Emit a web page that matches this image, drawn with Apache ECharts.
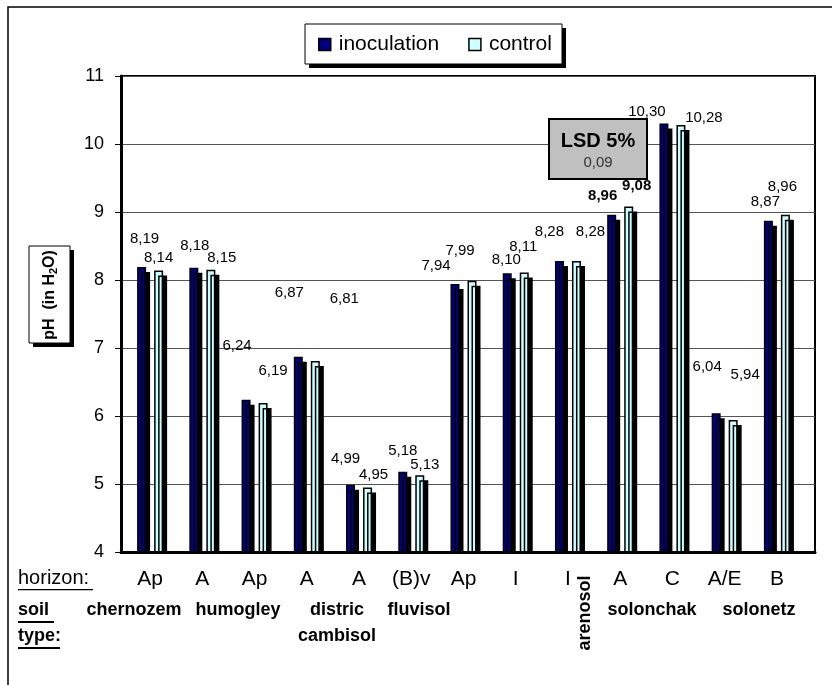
<!DOCTYPE html>
<html>
<head>
<meta charset="utf-8">
<script src="https://cdn.jsdelivr.net/npm/echarts@6/dist/echarts.min.js"></script>
<style>html,body{margin:0;padding:0;background:#fff}#c{width:832px;height:685px}</style>
</head>
<body>
<div id="c"></div>
<script>
// ---- data ----
var horizons = ['Ap', 'A', 'Ap', 'A', 'A', '(B)v', 'Ap', 'I', 'I', 'A', 'C', 'A/E', 'B'];
var inoculation = [8.19, 8.18, 6.24, 6.87, 4.99, 5.18, 7.94, 8.10, 8.28, 8.96, 10.30, 6.04, 8.87];
var control = [8.14, 8.15, 6.19, 6.81, 4.95, 5.13, 7.99, 8.11, 8.28, 9.08, 10.28, 5.94, 8.96];
var yTicks = [4, 5, 6, 7, 8, 9, 10, 11];
var soilTypes = ['chernozem', 'humogley', 'distric\ncambisol', 'fluvisol', 'arenosol', 'solonchak', 'solonetz'];
var lsdValue = 0.09;

// ---- label placement (Excel-like manual label positions) ----
var inocLabelOffsets = [[3,-29],[1,-22],[-9,-54],[-9,-64],[-5,-26],[0,-21],[-19,-19],[-1,-14],[-10,-30],[-9,-19],[-17,-12],[-9,-47],[-3,-19]];
var ctrlLabelOffsets = [[0,-13],[11,-12],[10,-33],[29,-63],[6,-13],[5,-11],[-12,-30],[-1,-26],[14,-30],[8,-21],[23,-8],[12,-46],[-3,-28]];
var boldLabelIdx = [9];

function fmt(v){ return v.toFixed(2).replace('.', ','); }
function mkData(vals, offs){
  return vals.map(function(v, i){
    return {
      value: v,
      label: {
        offset: [offs[i][0], offs[i][1] + 8],
        fontWeight: boldLabelIdx.indexOf(i) >= 0 ? 'bold' : 'normal'
      }
    };
  });
}

var chart = echarts.init(document.getElementById('c'), null, {renderer: 'canvas'});
var F = 'Arial, "Liberation Sans", sans-serif';
var barItem = function(color){
  return {color: color, borderColor: '#000', borderWidth: 1.5,
          shadowColor: '#000', shadowBlur: 0, shadowOffsetX: 4, shadowOffsetY: 5};
};
var labelBase = {show: true, position: 'top', distance: 0, fontFamily: F, fontSize: 15, color: '#000',
                 formatter: function(p){ return fmt(p.value); }};

var soilPos = [[134,610],[238,610],[337,623],[419,610],null,[652,610],[759,610]];
var graphics = [
  {type: 'rect', shape: {x: 8, y: 7, width: 840, height: 700}, style: {fill: 'none', stroke: '#000', lineWidth: 1.5}, z: 0},
  // legend frame with shadow
  {type: 'rect', shape: {x: 309, y: 28, width: 257, height: 40}, style: {fill: '#000'}, z: 1},
  {type: 'rect', shape: {x: 305, y: 24, width: 257, height: 40}, style: {fill: '#fff', stroke: '#000', lineWidth: 1}, z: 2},
  // hide bar shadows below the category axis
  {type: 'rect', shape: {x: 122, y: 553.5, width: 700, height: 8}, style: {fill: '#fff'}, z: 20},
  // y-axis title box with shadow
  {type: 'rect', shape: {x: 33, y: 250, width: 41, height: 97}, style: {fill: '#000'}, z: 10},
  {type: 'rect', shape: {x: 29, y: 246, width: 41, height: 97}, style: {fill: '#fff', stroke: '#000', lineWidth: 1}, z: 11},
  {type: 'text', x: 50, y: 295, rotation: Math.PI/2, z: 12,
   style: {text: '{b|pH  (in H}{s|2}{b|O)}', align: 'center', verticalAlign: 'middle',
           rich: {b: {fontFamily: F, fontSize: 16, fontWeight: 'bold', fill: '#000'},
                  s: {fontFamily: F, fontSize: 11, fontWeight: 'bold', fill: '#000', padding: [8,0,0,0]}}}},
  // LSD box
  {type: 'rect', shape: {x: 549, y: 119, width: 98, height: 60}, style: {fill: '#c0c0c0', stroke: '#000', lineWidth: 2}, z: 10},
  {type: 'text', x: 598, y: 141, z: 11, style: {text: 'LSD 5%', align: 'center', verticalAlign: 'middle', fontFamily: F, fontSize: 20, fontWeight: 'bold', fill: '#000'}},
  {type: 'text', x: 598, y: 163, z: 11, style: {text: fmt(lsdValue), align: 'center', verticalAlign: 'middle', fontFamily: F, fontSize: 15, fill: '#333'}},
  // row titles
  {type: 'text', x: 18, y: 578, style: {text: 'horizon:', verticalAlign: 'middle', fontFamily: F, fontSize: 20, fill: '#000'}},
  {type: 'rect', shape: {x: 18, y: 589, width: 75, height: 1.3}, style: {fill: '#000'}},
  {type: 'text', x: 18, y: 610, style: {text: 'soil', verticalAlign: 'middle', fontFamily: F, fontSize: 18, fontWeight: 'bold', fill: '#000'}},
  {type: 'rect', shape: {x: 18, y: 621, width: 36, height: 2}, style: {fill: '#000'}},
  {type: 'text', x: 18, y: 636, style: {text: 'type:', verticalAlign: 'middle', fontFamily: F, fontSize: 18, fontWeight: 'bold', fill: '#000'}},
  {type: 'rect', shape: {x: 18, y: 647, width: 42, height: 2}, style: {fill: '#000'}},
  // arenosol (vertical)
  {type: 'text', x: 585, y: 613, rotation: Math.PI/2, style: {text: soilTypes[4], align: 'center', verticalAlign: 'middle', fontFamily: F, fontSize: 18, fontWeight: 'bold', fill: '#000'}, z: 5}
];
soilTypes.forEach(function(s, i){
  if (!soilPos[i]) return;
  graphics.push({type: 'text', x: soilPos[i][0], y: soilPos[i][1],
    style: {text: s, align: 'center', verticalAlign: 'middle', lineHeight: 26, fontFamily: F, fontSize: 18, fontWeight: 'bold', fill: '#000'}});
});

chart.setOption({
  animation: false,
  backgroundColor: '#fff',
  textStyle: {fontFamily: F},
  legend: {
    left: 305, top: 24, z: 30,
    data: ['inoculation', 'control'],
    icon: 'rect', itemWidth: 12, itemHeight: 12, itemGap: 29,
    padding: [10, 10, 9, 13],
    backgroundColor: 'transparent', borderWidth: 0,
    itemStyle: {borderColor: '#000', borderWidth: 1.5, shadowBlur: 0, shadowOffsetX: 0, shadowOffsetY: 0, shadowColor: 'rgba(0,0,0,0)'},
    textStyle: {fontFamily: F, fontSize: 21, color: '#000', padding: [0, 0, 0, 3]}
  },
  grid: [
    {left: 121, top: 76, right: 17, bottom: 133, show: true, borderColor: '#000', borderWidth: 2, backgroundColor: 'transparent'},
    {left: 124, top: 76, width: 679, bottom: 133}
  ],
  xAxis: [
    {gridIndex: 0, type: 'value', min: 0, max: 1, axisLabel: {show: false}, axisTick: {show: false}, splitLine: {show: false},
     axisLine: {show: true, lineStyle: {color: '#000', width: 3}}, z: 25},
    {gridIndex: 1, type: 'category', data: horizons, axisLine: {show: false}, axisTick: {show: false},
     axisLabel: {fontFamily: F, fontSize: 21, color: '#000', margin: 17, interval: 0}}
  ],
  yAxis: [
    {gridIndex: 0, type: 'value', min: yTicks[0], max: yTicks[yTicks.length-1], interval: 1,
     axisLine: {show: true, lineStyle: {color: '#000', width: 3}},
     axisTick: {show: true, length: 6, lineStyle: {color: '#000', width: 1}},
     axisLabel: {fontFamily: F, fontSize: 18, color: '#000', margin: 17},
     splitLine: {show: true, lineStyle: {color: '#555', width: 1}}},
    {gridIndex: 1, type: 'value', min: yTicks[0], max: yTicks[yTicks.length-1], show: false}
  ],
  series: [
    {name: 'inoculation', type: 'bar', xAxisIndex: 1, yAxisIndex: 1, barWidth: 9, barGap: '89%',
     itemStyle: barItem('#000080'), label: labelBase, data: mkData(inoculation, inocLabelOffsets), z: 3},
    {name: 'control', type: 'bar', xAxisIndex: 1, yAxisIndex: 1, barWidth: 9,
     itemStyle: barItem('#ccffff'), label: labelBase, data: mkData(control, ctrlLabelOffsets), z: 3}
  ],
  graphic: graphics
});
</script>
</body>
</html>
